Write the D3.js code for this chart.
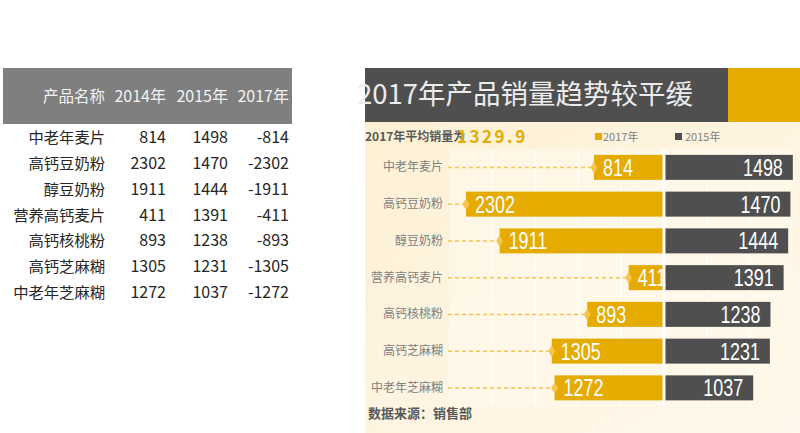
<!DOCTYPE html>
<html>
<head>
<meta charset="utf-8">
<script src="https://cdn.jsdelivr.net/npm/d3@7"></script>
<style>
  body { margin: 0; background: #fff; }
  svg { display: block; }
</style>
</head>
<body>
<div id="chart"></div>
<script>
var categories = ["中老年麦片", "高钙豆奶粉", "醇豆奶粉", "营养高钙麦片", "高钙核桃粉", "高钙芝麻糊", "中老年芝麻糊"];
var sales2014 = [814, 2302, 1911, 411, 893, 1305, 1272];
var sales2015 = [1498, 1470, 1444, 1391, 1238, 1231, 1037];
var sales2017 = [-814, -2302, -1911, -411, -893, -1305, -1272];
var headers = ["产品名称", "2014年", "2015年", "2017年"];
var xTicks = [-2000, -1500, -1000, -500, 500, 1000];
var avgLabel = "2017年平均销量为";
var avgValue = "1329.9";
var title = "2017年产品销量趋势较平缓";
var source = "数据来源：销售部";

var svgWidth = 800;
var svgHeight = 433;

var gold = "#e5ab00";
var dark = "#4f4f4f";
var cjk = "'Noto Sans CJK SC', sans-serif";
var numFont = "'Liberation Sans', Arial, sans-serif";

var svg = d3.select("#chart")
  .append("svg")
  .attr("width", svgWidth)
  .attr("height", svgHeight);

var rows = categories.map(function(c, i) {
  return { name: c, v14: sales2014[i], v15: sales2015[i], v17: sales2017[i] };
});

// ---------- left table ----------
svg.append("rect")
  .attr("x", 3).attr("y", 68).attr("width", 289).attr("height", 56)
  .attr("fill", "#7f7f7f");

var colX = [105, 166, 228, 289];

svg.selectAll(".hdr")
  .data(headers)
  .enter()
  .append("text")
  .attr("x", (d, i) => colX[i])
  .attr("y", 102)
  .attr("text-anchor", "end")
  .attr("fill", "#f2f2f2")
  .style("font-family", cjk)
  .style("font-size", (d, i) => i === 0 ? "15.5px" : "16px")
  .text(d => d);

var rowY = d3.scalePoint()
  .domain(categories)
  .range([137.5, 292.5]);

var tRows = svg.selectAll(".trow")
  .data(rows)
  .enter()
  .append("g")
  .attr("transform", d => `translate(0, ${rowY(d.name) + 5.5})`);

tRows.selectAll("text")
  .data(d => [d.name, d.v14, d.v15, d.v17])
  .enter()
  .append("text")
  .attr("x", (d, i) => colX[i])
  .attr("text-anchor", "end")
  .attr("fill", "#262626")
  .style("font-family", cjk)
  .style("font-size", (d, i) => i === 0 ? "15.3px" : "16px")
  .text(d => d);

// ---------- right chart panel ----------
var defs = svg.append("defs");
var grad = defs.append("linearGradient")
  .attr("id", "panelGrad")
  .attr("x1", "0").attr("y1", "0").attr("x2", "1").attr("y2", "1");
grad.append("stop").attr("offset", "0").attr("stop-color", "#fdf0d4");
grad.append("stop").attr("offset", "1").attr("stop-color", "#fff8ec");

svg.append("rect")
  .attr("x", 365).attr("y", 122).attr("width", 435).attr("height", 311)
  .attr("fill", "url(#panelGrad)");

// title bar
svg.append("rect")
  .attr("x", 365).attr("y", 68).attr("width", 363).attr("height", 54)
  .attr("fill", dark);
svg.append("rect")
  .attr("x", 728).attr("y", 68).attr("width", 72).attr("height", 54)
  .attr("fill", gold);

svg.append("text")
  .attr("x", 357)
  .attr("y", 104)
  .attr("fill", "#ececec")
  .style("font-family", cjk)
  .style("font-size", "27.5px")
  .text(title);

// scales
var xScale = d3.scaleLinear()
  .domain([-2500, 1500])
  .range([449, 793]);

var yScale = d3.scaleBand()
  .domain(categories)
  .range([149, 406.25])
  .paddingInner(0.32)
  .paddingOuter(0.16);

var plotTop = yScale.range()[0];
var plotBottom = yScale.range()[1];
var mid = d => yScale(d.name) + yScale.bandwidth() / 2;

// plot area
svg.append("rect")
  .attr("x", xScale(-2500))
  .attr("y", plotTop)
  .attr("width", xScale(1500) - xScale(-2500))
  .attr("height", plotBottom - plotTop)
  .attr("fill", "#fff8e8")
  .attr("opacity", 0.8);

svg.selectAll(".grid")
  .data(xTicks)
  .enter()
  .append("line")
  .attr("x1", d => xScale(d)).attr("x2", d => xScale(d))
  .attr("y1", plotTop).attr("y2", plotBottom)
  .attr("stroke", "#ffffff")
  .attr("stroke-width", 1.2);

svg.append("line")
  .attr("x1", xScale(0)).attr("x2", xScale(0))
  .attr("y1", plotTop).attr("y2", plotBottom)
  .attr("stroke", "#ffffff")
  .attr("stroke-width", 3);

// average + legend
svg.append("text")
  .attr("x", 365).attr("y", 141)
  .attr("fill", "#595959")
  .style("font-family", cjk)
  .style("font-size", "12px")
  .style("font-weight", "bold")
  .text(avgLabel);

svg.append("text")
  .attr("x", 457).attr("y", 143)
  .attr("fill", gold)
  .style("font-family", cjk)
  .style("font-size", "17px")
  .style("font-weight", "bold")
  .style("letter-spacing", "2.5px")
  .text(avgValue);

var legend = [
  { name: "2017年", color: gold, x: 595, gap: 8 },
  { name: "2015年", color: dark, x: 675, gap: 10 }
];
var lg = svg.selectAll(".legend")
  .data(legend)
  .enter()
  .append("g")
  .attr("transform", d => `translate(${d.x}, 132)`);
lg.append("rect")
  .attr("width", 7).attr("height", 7).attr("y", 1)
  .attr("fill", d => d.color);
lg.append("text")
  .attr("x", d => d.gap)
  .attr("y", 8.5)
  .attr("fill", "#7f7f7f")
  .style("font-family", cjk)
  .style("font-size", "11px")
  .text(d => d.name);

// category labels + dashed leaders
var rowG = svg.selectAll(".row")
  .data(rows)
  .enter()
  .append("g");

rowG.append("text")
  .attr("x", 443)
  .attr("y", d => mid(d) + 4)
  .attr("text-anchor", "end")
  .attr("fill", "#7f7f7f")
  .style("font-family", cjk)
  .style("font-size", "12px")
  .text(d => d.name);

rowG.append("line")
  .attr("x1", 448)
  .attr("x2", d => xScale(d.v17))
  .attr("y1", mid)
  .attr("y2", mid)
  .attr("stroke", "#f6c44f")
  .attr("stroke-width", 1.5)
  .attr("stroke-dasharray", "4,3");

// gold bars (2017)
rowG.append("rect")
  .attr("x", d => xScale(d.v17))
  .attr("y", d => yScale(d.name))
  .attr("width", d => xScale(0) - 1.5 - xScale(d.v17))
  .attr("height", yScale.bandwidth())
  .attr("fill", gold);

// dark bars (2015)
rowG.append("rect")
  .attr("x", xScale(0) + 1.5)
  .attr("y", d => yScale(d.name))
  .attr("width", d => xScale(d.v15) - xScale(0) - 1.5)
  .attr("height", yScale.bandwidth())
  .attr("fill", dark);

// diamond markers
rowG.append("path")
  .attr("d", d3.symbol().type(d3.symbolDiamond).size(40))
  .attr("transform", d => `translate(${xScale(d.v17)}, ${mid(d)})`)
  .attr("fill", "#f6c44f");

// value labels (narrow digits: squeeze horizontally)
rowG.append("text")
  .attr("transform", d => `translate(${xScale(d.v17) + 9}, ${mid(d) + 8.5}) scale(0.78, 1)`)
  .attr("fill", "#ffffff")
  .style("font-family", numFont)
  .style("font-size", "23px")
  .text(d => Math.abs(d.v17));

rowG.append("text")
  .attr("transform", d => `translate(${xScale(d.v15) - 10}, ${mid(d) + 8.5}) scale(0.78, 1)`)
  .attr("text-anchor", "end")
  .attr("fill", "#ffffff")
  .style("font-family", numFont)
  .style("font-size", "23px")
  .text(d => d.v15);

// source note
svg.append("text")
  .attr("x", 368).attr("y", 418)
  .attr("fill", "#595959")
  .style("font-family", cjk)
  .style("font-size", "13px")
  .style("font-weight", "bold")
  .text(source);
</script>
</body>
</html>
